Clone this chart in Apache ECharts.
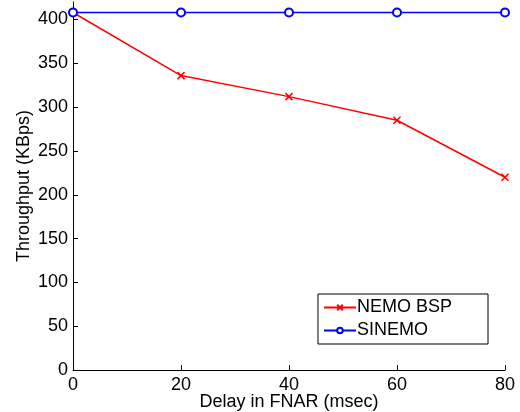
<!DOCTYPE html>
<html><head><meta charset="utf-8">
<script src="https://cdn.jsdelivr.net/npm/echarts@6/dist/echarts.min.js"></script>
<style>html,body{margin:0;padding:0;background:#fff}#c{width:520px;height:412px}</style>
</head><body><div id="c"></div>
<script>
const delays = [0, 20, 40, 60, 80];
const nemoBsp = [408, 336, 312, 285, 220];
const sinemo = [408, 408, 408, 408, 408];
const yTicks = [0, 50, 100, 150, 200, 250, 300, 350, 400];
const xTicks = [0, 20, 40, 60, 80];

const font = 'Liberation Sans, Arial, Helvetica, sans-serif';
const xPath = 'path://M0,0L10,10M10,0L0,10';
const chart = echarts.init(document.getElementById('c'));
chart.setOption({
  animation: false,
  grid: {left: 73, right: 15, top: 2, bottom: 42, outerBoundsMode: 'none', containLabel: false},
  legend: {
    right: 32, bottom: 68, orient: 'vertical',
    backgroundColor: '#fff', borderColor: '#000', borderWidth: 1,
    padding: [3, 36, 3, 5], itemGap: 2, itemWidth: 32, itemHeight: 7,
    textStyle: {fontFamily: font, fontSize: 18, color: '#000', lineHeight: 21, padding: [0, 0, 0, -4]},
    data: ['NEMO BSP', 'SINEMO']
  },
  xAxis: {
    type: 'value', min: 0, max: 80, interval: 20,
    name: 'Delay in FNAR (msec)', nameLocation: 'middle', nameGap: 23, nameMoveOverlap: false,
    nameTextStyle: {fontFamily: font, fontSize: 18, color: '#000'},
    axisLine: {show: true, onZero: false, lineStyle: {color: '#000', width: 1}},
    axisTick: {show: true, inside: true, length: 5, customValues: xTicks, lineStyle: {color: '#000'}},
    axisLabel: {fontFamily: font, fontSize: 18, color: '#000', margin: 6, customValues: xTicks},
    splitLine: {show: false}
  },
  yAxis: {
    type: 'value', min: 0, max: 420, interval: 50,
    name: 'Throughput (KBps)', nameLocation: 'middle', nameGap: 40, nameMoveOverlap: false,
    nameTextStyle: {fontFamily: font, fontSize: 18, color: '#000'},
    axisLine: {show: true, lineStyle: {color: '#000', width: 1}},
    axisTick: {show: true, inside: true, length: 5, customValues: yTicks, lineStyle: {color: '#000'}},
    axisLabel: {fontFamily: font, fontSize: 18, color: '#000', margin: 5, customValues: yTicks},
    splitLine: {show: false}
  },
  series: [
    {
      name: 'NEMO BSP', type: 'line',
      data: delays.map((d, i) => [d, nemoBsp[i]]),
      symbol: xPath, symbolSize: 7, showAllSymbol: true,
      lineStyle: {color: '#ff0000', width: 1.5},
      itemStyle: {color: '#ff0000', borderColor: '#ff0000', borderWidth: 1.5},
      z: 3
    },
    {
      name: 'SINEMO', type: 'line',
      data: delays.map((d, i) => [d, sinemo[i]]),
      symbol: 'emptyCircle', symbolSize: 8,
      lineStyle: {color: '#0000ff', width: 1.5},
      itemStyle: {color: '#0000ff', borderColor: '#0000ff', borderWidth: 1.5},
      z: 4
    }
  ]
});
</script></body></html>
